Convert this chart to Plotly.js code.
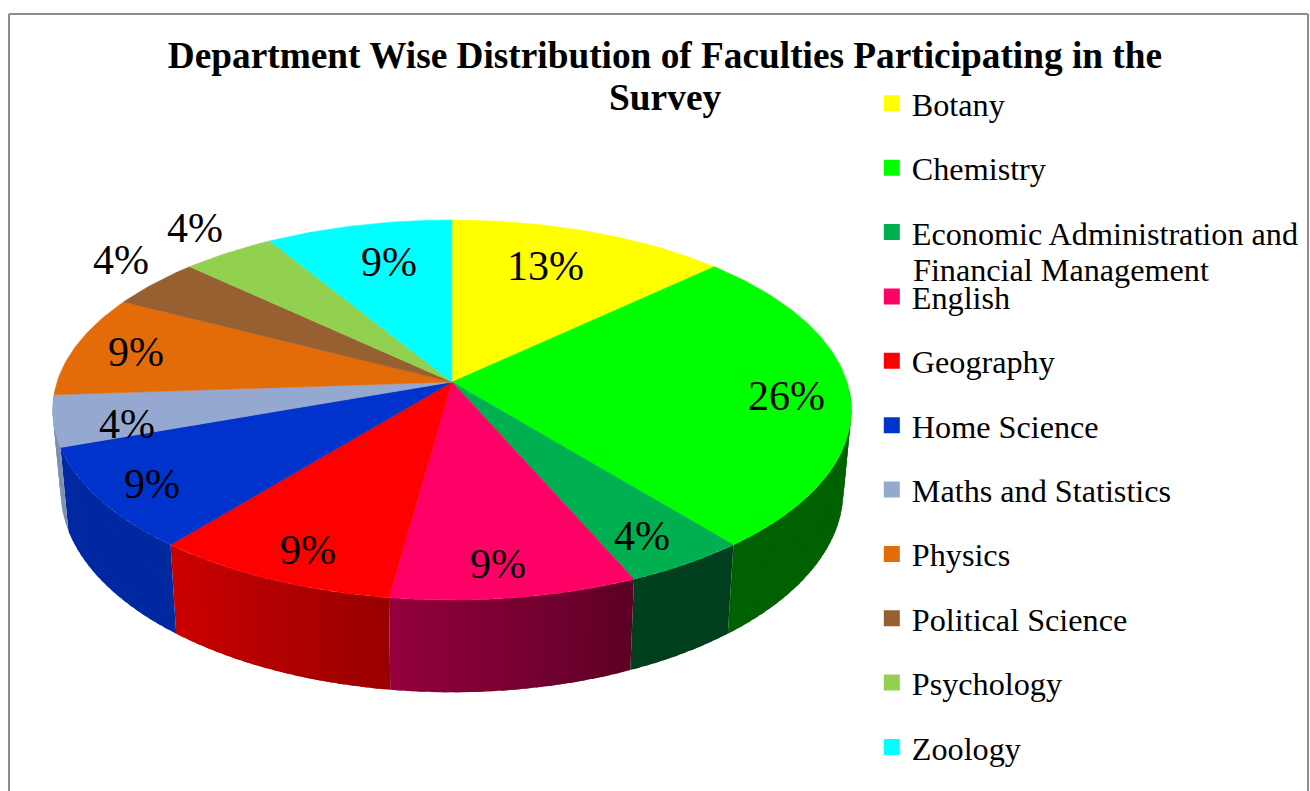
<!DOCTYPE html>
<html>
<head>
<meta charset="utf-8">
<script src="https://cdn.plot.ly/plotly-3.0.1.min.js"></script>
<style>html,body{margin:0;padding:0;background:#fff}</style>
</head>
<body>
<div id="chart" style="width:1310px;height:791px"></div>
<script>
const departments = ["Botany","Chemistry","Economic Administration and<br>Financial Management","English","Geography","Home Science","Maths and Statistics","Physics","Political Science","Psychology","Zoology"];
const faculties = [3,6,1,2,2,2,1,2,1,1,2];
const topColors = ["#ffff00","#00ff00","#00b050","#ff0066","#ff0000","#0033cc","#95a9d0","#e36c09","#976031","#92d050","#00ffff"];
const sideShadeStart = [1,0.38,0.36,0.36,0.60,0.78,0.85,1,1,1,1];
const sideShadeEnd   = [1,0.38,0.36,0.58,0.80,0.80,0.85,1,1,1,1];
const labelX = [545,786,642,498,308,152,127,136,121,195,389];
const labelY = [266,396,536,564,550,484,424,352,260,228,262];

const total = faculties.reduce((a,b)=>a+b,0);
// perspective projection of the pie's top disc onto the picture
const cx=452, cy=382, persp=0.1474, squash=129.6, spread=395;
function rim(deg,r){
  const t=deg*Math.PI/180, u=r*Math.sin(t), v=r*Math.cos(t), w=1+persp*v;
  return [cx+spread*u/w,(cy-squash*v)/w];
}
function lower(p){ return [cx+(p[0]-cx)*0.98, p[1]+83+(p[1]-447)*0.06]; }
function shade(hex,f){
  const n=parseInt(hex.slice(1),16);
  return `rgb(${Math.round((n>>16&255)*f)},${Math.round((n>>8&255)*f)},${Math.round((n&255)*f)})`;
}
const traces=[];
let cum=0;
const slices=faculties.map((v,i)=>{const a=cum/total*360;cum+=v;return {i,a,b:cum/total*360};});
// sides: thin overlapping bands so the shading runs smoothly
slices.forEach(s=>{
  const from=Math.max(s.a,92), to=Math.min(s.b,266.1);
  if(to<=from) return;
  const n=Math.max(1,Math.ceil((to-from)/1.5));
  for(let k=0;k<n;k++){
    const d0=from+(to-from)*k/n, d1=k===n-1?to:from+(to-from)*(k+1.6)/n;
    const f=sideShadeStart[s.i]+(sideShadeEnd[s.i]-sideShadeStart[s.i])*(k+0.5)/n;
    const p0=rim(d0,1),p1=rim(d1,1),pm=rim((d0+d1)/2,1),q0=lower(p0),q1=lower(p1),qm=lower(pm);
    traces.push({type:"scatter",mode:"none",x:[p0[0],pm[0],p1[0],q1[0],qm[0],q0[0],p0[0]],y:[p0[1],pm[1],p1[1],q1[1],qm[1],q0[1],p0[1]],
      fill:"toself",fillcolor:shade(topColors[s.i],f),showlegend:false,hoverinfo:"skip"});
  }
});
// top disc
slices.forEach(s=>{
  const xs=[cx],ys=[cy];
  const n=Math.ceil((s.b-s.a)/1);
  for(let k=0;k<=n;k++){const p=rim(s.a+(s.b-s.a)*k/n,1);xs.push(p[0]);ys.push(p[1]);}
  xs.push(cx);ys.push(cy);
  traces.push({type:"scatter",mode:"lines",x:xs,y:ys,fill:"toself",fillcolor:topColors[s.i],
    line:{color:topColors[s.i],width:0.5},showlegend:false,hoverinfo:"skip"});
});
// legend keys (the wrapped entry's second line is placed tighter than the legend's own line height allows)
departments.forEach((d,i)=>{
  traces.push({type:"scatter",mode:"markers",x:[null],y:[null],name:d.split("<br>")[0],legendgroup:"g"+i,
    marker:{symbol:"square",size:16,color:topColors[i]},hoverinfo:"skip"});
});
const serif='"Liberation Serif","Times New Roman",serif';
const annotations=faculties.map((v,i)=>({x:labelX[i],y:labelY[i],xref:"x",yref:"y",showarrow:false,
  text:Math.round(v/total*100)+"%",font:{family:serif,size:42,color:"#000"},xanchor:"center",yanchor:"middle"}));
annotations.push({x:665,y:97,xref:"x",yref:"y",showarrow:false,text:"<b>Survey</b>",
  font:{family:serif,size:37.4,color:"#000"},xanchor:"center",yanchor:"middle"});
annotations.push({x:911,y:270,xref:"x",yref:"y",showarrow:false,text:departments[2].split("<br>")[1],
  font:{family:serif,size:32.2,color:"#000"},xanchor:"left",yanchor:"middle"});
const frame={type:"line",xref:"paper",yref:"paper",line:{color:"#8c8c8c",width:2}};
const layout={
  width:1310,height:791,autosize:false,margin:{l:0,r:0,t:0,b:0,pad:0,autoexpand:false},
  paper_bgcolor:"#fff",plot_bgcolor:"#fff",showlegend:true,
  title:{text:"<b>Department Wise Distribution of Faculties Participating in the</b>",
    x:0.5076,xanchor:"center",y:0.93,yanchor:"middle",font:{family:serif,size:37.3,color:"#000"}},
  xaxis:{range:[0,1310],visible:false,fixedrange:true},
  yaxis:{range:[791,0],visible:false,fixedrange:true},
  annotations,
  legend:{bgcolor:"rgba(0,0,0,0)",borderwidth:0,font:{family:serif,size:32.2,color:"#000"},
    xanchor:"left",yanchor:"top",xref:"container",yref:"container",tracegroupgap:19.5,
    itemclick:false,itemdoubleclick:false,traceorder:"grouped",maxheight:740,x:0.6655,y:0.904},
  shapes:[
    Object.assign({},frame,{x0:9/1310,x1:9/1310,y0:0,y1:1-14/791}),
    Object.assign({},frame,{x0:9/1310,x1:1308/1310,y0:1-14/791,y1:1-14/791}),
    Object.assign({},frame,{x0:1308/1310,x1:1308/1310,y0:0,y1:1-14/791})
  ]
};
Plotly.newPlot("chart",traces,layout,{displayModeBar:false,staticPlot:true});
</script>
</body>
</html>
